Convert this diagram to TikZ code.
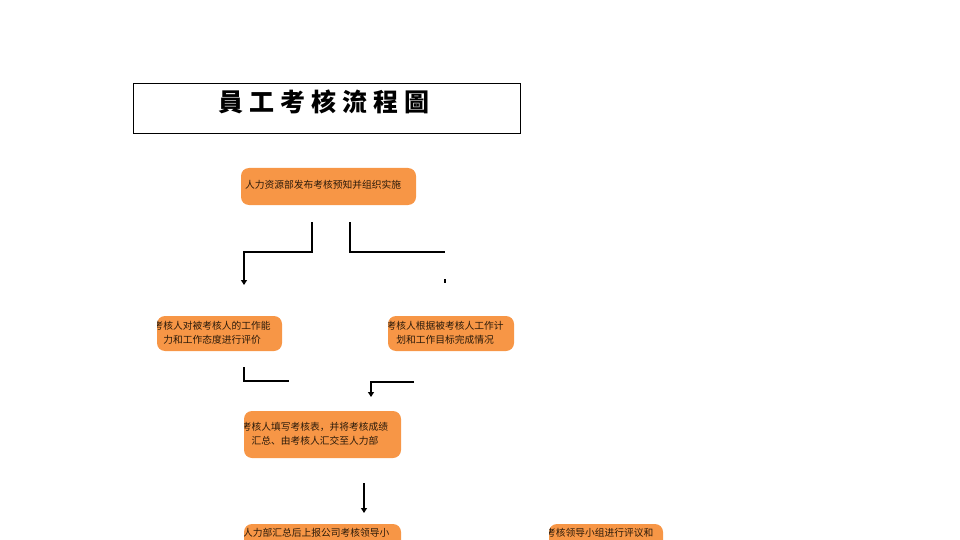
\documentclass[tikz,border=0pt]{standalone}
\usepackage{fontspec}
\newfontfamily\cjk{Noto Sans CJK SC}
\newfontfamily\cjktc{Noto Sans CJK TC}[BoldFont={* Black}]
\usetikzlibrary{arrows.meta}
\definecolor{boxorange}{HTML}{F79646}
\definecolor{boxtxt}{HTML}{2A1A0A}
\tikzset{
  x=1pt,y=-1pt,
  flowbox/.style={fill=boxorange,draw=none,rounded corners=8pt},
  boxtext/.style={font=\cjk\fontsize{9.75}{14}\selectfont,text=boxtxt,inner sep=0pt,align=center},
  conn/.style={line width=2.5pt,black},
  arr/.style={conn,-{Triangle[length=5pt,width=6pt]}},
}
\begin{document}
\begin{tikzpicture}
\useasboundingbox (0,0) rectangle (960,540);
% title
\node[draw=black,line width=0.6pt,minimum width=387pt,minimum height=50pt,inner sep=0pt] (title) at (326.5,108) {};
\node[font=\cjktc\bfseries\fontsize{25}{27}\selectfont,inner sep=0pt] (titletext) at (324,102)
  {員\hspace{6pt}工\hspace{6pt}考\hspace{6pt}核\hspace{6pt}流\hspace{6pt}程\hspace{6pt}圖};
% box 1
\path[flowbox] (241,168) rectangle (416,205);
\node[boxtext,anchor=west] (b1) at (245,185) {人力资源部发布考核预知并组织实施};
\coordinate (b1l) at (312,222);
\coordinate (b1r) at (350,222);
% box 2
\path[flowbox] (157,316) rectangle (282,351);
\begin{scope}
\clip (157,316) rectangle (282,351);
\node[boxtext] (b2) at (212,333) {考核人对被考核人的工作能\\力和工作态度进行评价};
\end{scope}
% box 3
\path[flowbox] (388,316) rectangle (514,351);
\begin{scope}
\clip (388,316) rectangle (514,351);
\node[boxtext] (b3) at (445,333) {考核人根据被考核人工作计\\划和工作目标完成情况};
\end{scope}
% box 4
\path[flowbox] (244,411) rectangle (401,458);
\begin{scope}
\clip (244,411) rectangle (401,458);
\node[boxtext] (b4) at (315,434) {考核人填写考核表，并将考核成绩\\汇总、由考核人汇交至人力部};
\end{scope}
% box 5
\path[flowbox] (244,524) rectangle (401,560);
\begin{scope}
\clip (244,524) rectangle (401,560);
\node[boxtext,anchor=west] (b5) at (243,533) {人力部汇总后上报公司考核领导小};
\end{scope}
% box 6
\path[flowbox] (549,524) rectangle (663,560);
\begin{scope}
\clip (549,524) rectangle (663,560);
\node[boxtext,anchor=west] (b6) at (546,533) {考核领导小组进行评议和};
\end{scope}
% connectors
\coordinate (c1) at (244,285);
\draw[arr] (b1l) -- (312,252) -- (244,252) -- (c1);
\coordinate (c2) at (445,252);
\draw[conn] (b1r) -- (350,252) -- (c2);
\coordinate (c3a) at (445,279);
\coordinate (c3b) at (445,283);
\draw[line width=1.5pt] (c3a) -- (c3b);
\coordinate (d1) at (244,367);
\coordinate (d2) at (289,381);
\draw[conn] (d1) -- (244,381) -- (d2);
\coordinate (e1) at (414,382);
\coordinate (e2) at (371,397);
\draw[arr] (e1) -- (371,382) -- (e2);
\coordinate (f1) at (364,483);
\coordinate (f2) at (364,513);
\draw[arr] (f1) -- (f2);
\end{tikzpicture}
\end{document}
